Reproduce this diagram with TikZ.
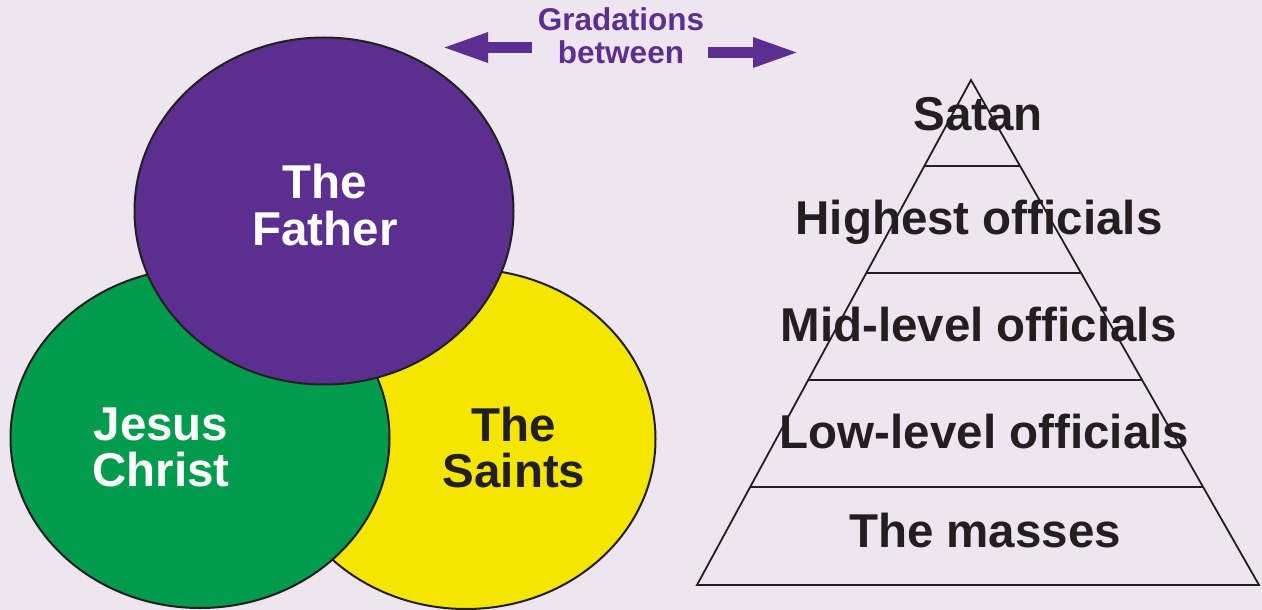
\documentclass[tikz,border=0pt]{standalone}
\usepackage{fontspec}
\setmainfont{Liberation Sans}
\usetikzlibrary{shapes.geometric,arrows.meta,calc}
\definecolor{bgc}{RGB}{239,229,241}
\definecolor{purp}{RGB}{91,47,143}
\definecolor{grn}{RGB}{0,155,76}
\definecolor{yel}{RGB}{245,230,0}
\definecolor{ink}{RGB}{35,31,32}
\begin{document}
\begin{tikzpicture}[x=1pt,y=-1pt,
  blob/.style={ellipse,draw=ink,line width=2pt,inner sep=0pt},
  bigtxt/.style={font=\fontsize{47.5}{46.5}\selectfont\bfseries,align=center,inner sep=0pt},
  levtxt/.style={font=\fontsize{47.5}{47}\selectfont\bfseries,text=ink,inner sep=0pt,anchor=base},
  toptxt/.style={font=\fontsize{31.5}{33}\selectfont\bfseries,text=purp,align=center,inner sep=0pt},
  bigarrow/.style={draw=purp,line width=11pt,-{Triangle[length=47pt,width=27pt]}},
  tier/.style={draw=ink,line width=1.8pt}]
\useasboundingbox (0,0) rectangle (1262,610);
\fill[bgc] (0,0) rectangle (1262,610);
% Circles
\node[blob,fill=yel,minimum width=379pt,minimum height=340pt] (saints) at (466,439) {};
\node[blob,fill=grn,minimum width=379pt,minimum height=340pt] (jesus) at (200,438) {};
\node[blob,fill=purp,minimum width=379pt,minimum height=347pt] (father) at (324,211) {};
\node[bigtxt,text=white] (tfather) at (325,205) {The\\Father};
\node[bigtxt,text=white] (tjesus) at (161,447.5) {Jesus\\Christ};
\node[bigtxt,text=ink] (tsaints) at (514,447.5) {The\\Saints};
% Top label and arrows
\node[toptxt] (grad) at (621,36) {Gradations\\between};
\coordinate (la) at (441,47.5);
\coordinate (ra) at (800,52.5);
\draw[bigarrow] (532,47.5) -- (la);
\draw[bigarrow] (708,52.5) -- (ra);
% Pyramid
\coordinate (apex) at (971,80);
\coordinate (bl) at (697,585);
\coordinate (br) at (1259,585);
\draw[ink,line width=1.8pt,line join=miter] (apex) -- (bl) -- (br) -- cycle;
\foreach \t in {0.1703,0.3822,0.5941,0.8059}{
  \draw[tier] ($(apex)!\t!(bl)$) -- ($(apex)!\t!(br)$);
}
\node[levtxt] (satan) at (978,130) {Satan};
\node[levtxt] (high) at (979,234) {Highest officials};
\node[levtxt] (mid) at (978.5,341) {Mid-level officials};
\node[levtxt] (low) at (984.5,448) {Low-level officials};
\node[levtxt] (mass) at (985,547) {The masses};
\end{tikzpicture}
\end{document}
